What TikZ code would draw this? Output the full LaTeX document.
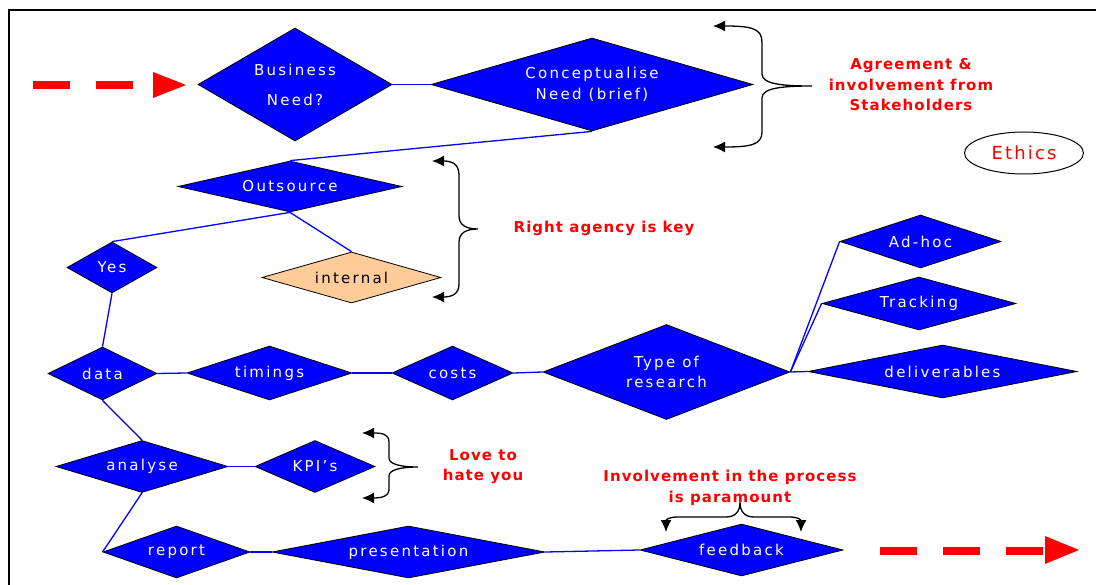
\documentclass[tikz,border=0pt]{standalone}
\usepackage{fontspec}
\setmainfont{DejaVu Sans}
\newfontfamily\boxfont{DejaVu Sans}[LetterSpace=15]
\newfontfamily\notefont{DejaVu Sans}[LetterSpace=7]
\newfontfamily\ethfont{DejaVu Sans}[LetterSpace=12]
\usetikzlibrary{shapes.geometric, arrows.meta}
\definecolor{flowblue}{RGB}{0,0,255}
\definecolor{peach}{RGB}{253,204,153}
\definecolor{flowred}{RGB}{255,0,0}

\begin{document}
\begin{tikzpicture}[x=1pt, y=-1pt,
  dia/.style={diamond, draw=black, line width=0.8pt, fill=flowblue, text=white,
    inner sep=0pt, align=center, font=\boxfont\fontsize{15}{21}\selectfont},
  dsize/.code 2 args={\pgfmathsetmacro\dasp{#1/#2}%
    \edef\dtmp{\noexpand\pgfkeysalso{minimum width=#1pt, minimum height=#2pt, aspect=\dasp}}\dtmp},
  link/.style={draw=flowblue, line width=1.3pt},
  brace/.style={draw=black, line width=1.3pt,
    {Latex[length=12pt,width=11pt]}-{Latex[length=12pt,width=11pt]}},
  note/.style={text=flowred, align=center,
    font=\notefont\bfseries\fontsize{15}{20.5}\selectfont},
  flowarrow/.style={draw=flowred, line width=8pt, dash pattern=on 37pt off 26pt},
]
\useasboundingbox (0,0) rectangle (1096,585);

% frame
\draw[line width=2pt] (9,585) -- (9,10) -- (1096,10);

% process diamonds
\node[dia, dsize={194}{113}] (need) at (295,84.5) {Business\\[9pt]Need?};
\node[dia, dsize={322}{93}] (concept) at (592,84.5) {Conceptualise\\Need (brief)};
\node[dia, dsize={224}{51}] (outsource) at (290,186.5) {Outsource};
\node[dia, dsize={90}{51}] (yes) at (112,267.5) {Yes};
\node[dia, dsize={179}{51}, fill=peach, text=black] (internal) at (351.5,277.5) {internal};
\node[dia, dsize={109}{53}] (data) at (102.5,373.5) {data};
\node[dia, dsize={165}{54}] (timings) at (269.5,373) {timings};
\node[dia, dsize={121}{54}] (costs) at (452.5,373) {costs};
\node[dia, dsize={247}{95}, font=\boxfont\fontsize{15}{20}\selectfont] (type) at (666.5,372) {Type of\\research};
\node[dia, dsize={161}{53}] (adhoc) at (920.5,241.5) {Ad-hoc};
\node[dia, dsize={194}{53}] (tracking) at (919,303.5) {Tracking};
\node[dia, dsize={269}{53}] (deliv) at (942.5,371.5) {deliverables};
\node[dia, dsize={172}{52}] (analyse) at (142,466.5) {analyse};
\node[dia, dsize={120}{52}] (kpi) at (315,466.5) {KPI’s};
\node[dia, dsize={147}{52}] (report) at (176.5,552) {report};
\node[dia, dsize={273}{52}] (present) at (408.5,552) {presentation};
\node[dia, dsize={203}{52}] (feedback) at (741.5,550) {feedback};

% connectors
\draw[link] (need.east) -- (concept.west);
\draw[link] (concept.south) -- (outsource.north);
\draw[link] (outsource.south) -- (yes.north);
\draw[link] (outsource.south) -- (internal.north);
\draw[link] (yes.south) -- (data.north);
\draw[link] (data.east) -- (timings.west);
\draw[link] (timings.east) -- (costs.west);
\draw[link] (costs.east) -- (type.west);
\draw[link] (type.east) -- (adhoc.west);
\draw[link] (type.east) -- (tracking.west);
\draw[link] (type.east) -- (deliv.west);
\draw[link] (data.south) -- (analyse.north);
\draw[link] (analyse.east) -- (kpi.west);
\draw[link] (analyse.south) -- (report.west);
\draw[link] (report.east) -- (present.west);
\draw[link] (present.east) -- (feedback.west);

% notes
\node[note] (agree) at (911,85) {Agreement \&\\involvement from\\Stakeholders};
\node[note] (agency) at (604,228) {Right agency is key};
\node[note] (love) at (483,466.5) {Love to\\hate you};
\node[note] (involve) at (730,488) {Involvement in the process\\is paramount};
\node[draw=black, line width=1pt, ellipse, minimum width=119pt, minimum height=42pt,
  inner sep=0pt, text=flowred, font=\ethfont\fontsize{18}{20}\selectfont] (ethics) at (1024,153) {Ethics};

% braces
\coordinate (b1a) at (713,26);
\coordinate (b1b) at (713,147);
\draw[brace] (b1a) .. controls (750,26) and (762,28) .. (762,42) -- (762,74)
  .. controls (762,84) and (782,86) .. (812,86)
  .. controls (782,86) and (762,88) .. (762,98) -- (762,132)
  .. controls (762,145) and (750,147) .. (b1b);

\coordinate (b2a) at (432,161);
\coordinate (b2b) at (432,297);
\draw[brace] (b2a) .. controls (452,161) and (459,164) .. (459,175) -- (459,216)
  .. controls (459,225) and (466,229) .. (478,229)
  .. controls (466,229) and (459,233) .. (459,242) -- (459,284)
  .. controls (459,294) and (452,297) .. (b2b);

\coordinate (b3a) at (362,433);
\coordinate (b3b) at (362,498);
\draw[brace] (b3a) .. controls (382,433) and (389,434) .. (389,442) -- (389,458)
  .. controls (389,464) and (400,467) .. (418,467)
  .. controls (400,467) and (389,470) .. (389,476) -- (389,490)
  .. controls (389,496) and (382,498) .. (b3b);

\coordinate (b4a) at (666,532);
\coordinate (b4b) at (801,532);
\draw[brace] (b4a) .. controls (666,520) and (668,517) .. (678,517) -- (726,517)
  .. controls (735,517) and (740,512) .. (740,502)
  .. controls (740,512) and (745,517) .. (754,517) -- (789,517)
  .. controls (799,517) and (801,520) .. (b4b);

% flow-in and flow-out arrows
\coordinate (inA) at (33,85);
\coordinate (inB) at (153,85);
\draw[flowarrow] (inA) -- (inB);
\fill[flowred] (153,72) -- (186,85) -- (153,98) -- cycle;

\coordinate (outA) at (880,551);
\coordinate (outB) at (1045,551);
\draw[flowarrow] (outA) -- (outB);
\fill[flowred] (1045,536) -- (1079,550) -- (1045,564) -- cycle;
\end{tikzpicture}
\end{document}
